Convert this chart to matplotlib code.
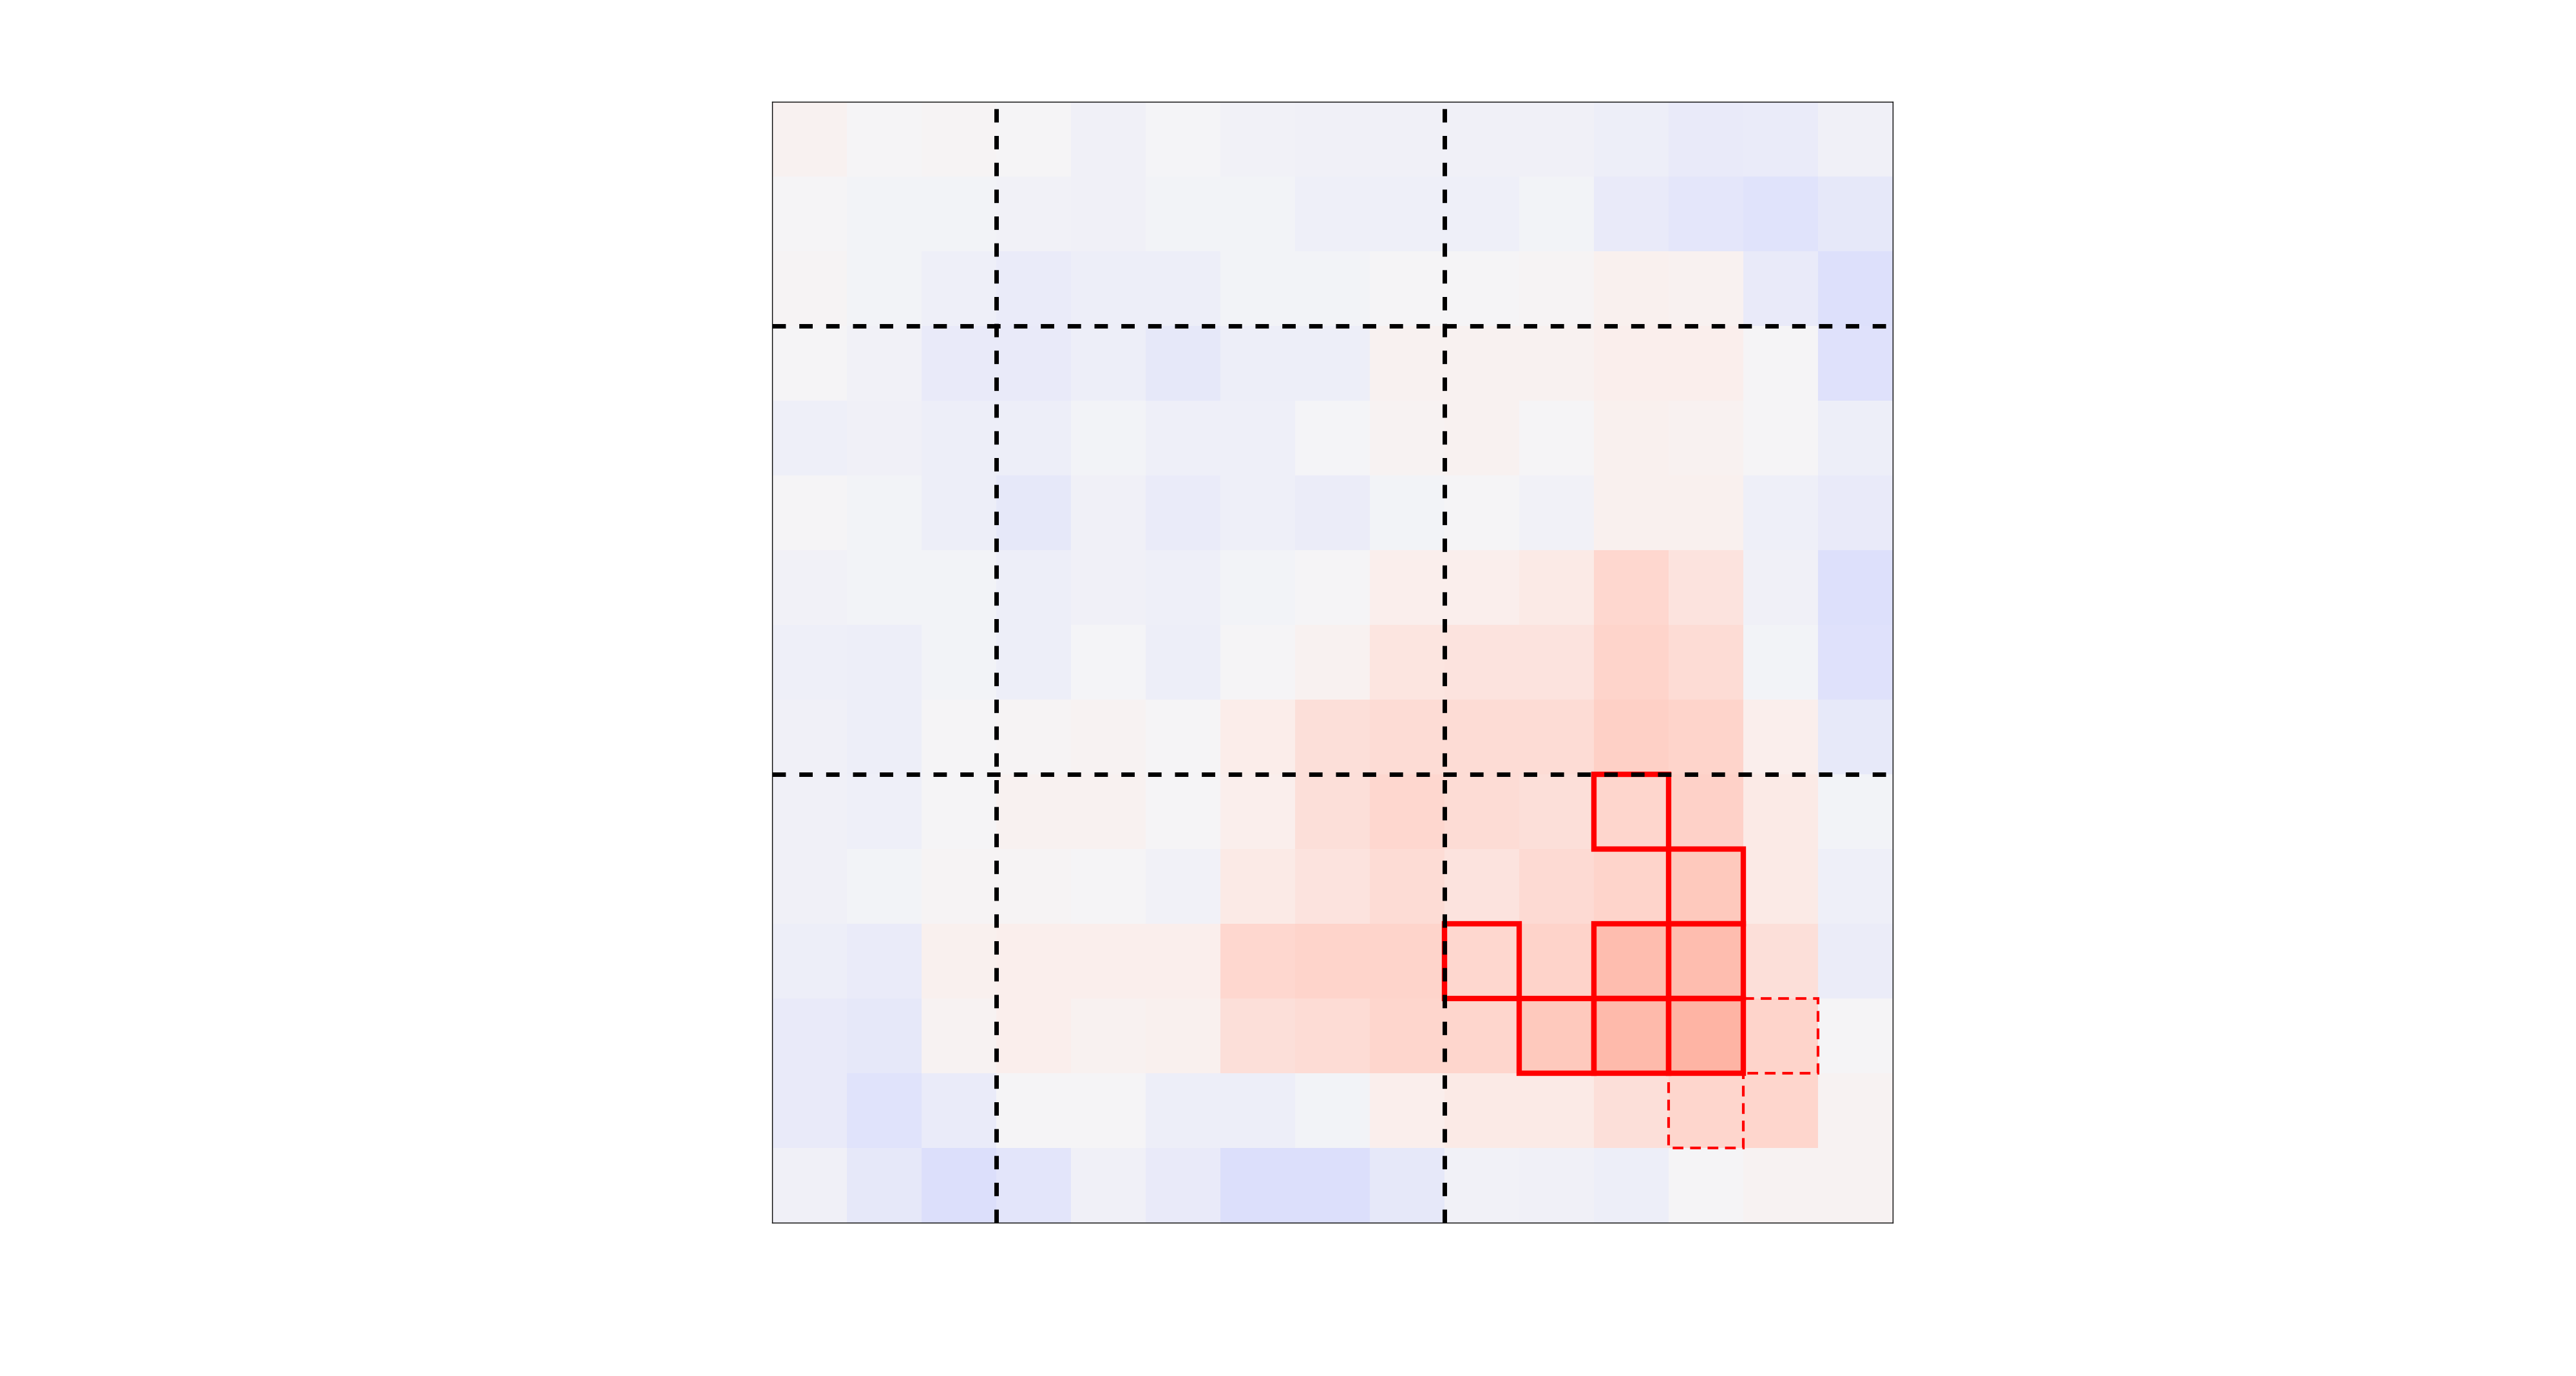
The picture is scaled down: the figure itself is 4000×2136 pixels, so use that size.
import numpy as np
import matplotlib
matplotlib.use("Agg")
import matplotlib.pyplot as plt
from matplotlib.colors import LinearSegmentedColormap
from matplotlib.patches import Rectangle

# cell values, read row by row from top
r0 = [0.03, 0.0, 0.01, 0.0, -0.03, -0.005, -0.02, -0.03, -0.03, -0.03, -0.03, -0.045, -0.065, -0.06, -0.03]
r1 = [0.005, -0.01, -0.015, -0.02, -0.03, -0.01, -0.015, -0.035, -0.035, -0.035, -0.015, -0.065, -0.09, -0.11, -0.085]
r2 = [0.01, -0.015, -0.035, -0.06, -0.045, -0.045, -0.015, -0.015, 0.0, 0.005, 0.015, 0.035, 0.025, -0.065, -0.13]
r3 = [0.005, -0.02, -0.065, -0.065, -0.045, -0.08, -0.04, -0.04, 0.025, 0.025, 0.025, 0.04, 0.04, 0.0, -0.12]
r4 = [-0.035, -0.03, -0.04, -0.045, -0.01, -0.035, -0.035, -0.005, 0.02, 0.025, 0.0, 0.035, 0.03, 0.0, -0.04]
r5 = [0.0, -0.01, -0.04, -0.08, -0.03, -0.06, -0.035, -0.05, -0.01, 0.0, -0.02, 0.035, 0.035, -0.035, -0.065]
r6 = [-0.02, -0.015, -0.01, -0.045, -0.03, -0.035, -0.015, 0.0, 0.04, 0.04, 0.07, 0.15, 0.1, -0.03, -0.13]
r7 = [-0.035, -0.04, -0.015, -0.04, -0.005, -0.045, 0.0, 0.03, 0.09, 0.1, 0.1, 0.17, 0.13, -0.015, -0.12]
r8 = [-0.03, -0.04, 0.0, 0.015, 0.02, 0.0, 0.05, 0.11, 0.13, 0.13, 0.13, 0.19, 0.17, 0.045, -0.075]
r9 = [-0.03, -0.035, 0.0, 0.025, 0.025, 0.0, 0.045, 0.11, 0.15, 0.13, 0.11, 0.16, 0.18, 0.07, -0.015]
r10 = [-0.03, -0.01, 0.01, 0.015, 0.0, -0.02, 0.065, 0.1, 0.13, 0.1, 0.14, 0.17, 0.23, 0.07, -0.035]
r11 = [-0.04, -0.055, 0.035, 0.04, 0.04, 0.04, 0.15, 0.17, 0.17, 0.15, 0.175, 0.29, 0.29, 0.115, -0.05]
r12 = [-0.065, -0.08, 0.02, 0.045, 0.03, 0.035, 0.11, 0.13, 0.16, 0.16, 0.23, 0.31, 0.34, 0.165, 0.0]
r13 = [-0.065, -0.11, -0.055, 0.0, 0.0, -0.04, -0.04, -0.01, 0.045, 0.07, 0.07, 0.11, 0.16, 0.16, 0.02]
r14 = [-0.03, -0.08, -0.135, -0.1, -0.03, -0.065, -0.14, -0.14, -0.085, -0.02, -0.03, -0.045, 0.0, 0.02, 0.02]

# group boundaries (dashed black lines)
splits = [3, 9]

# highlighted cells (row, col)
solid_cells = [(9, 11), (10, 12), (11, 9), (11, 11), (11, 12), (12, 10), (12, 11), (12, 12)]
dashed_cells = [(12, 13), (13, 12)]

grid = np.array([r0, r1, r2, r3, r4, r5, r6, r7, r8, r9, r10, r11, r12, r13, r14])
n = grid.shape[0]

# soft diverging map, light grey in the middle (positions are (v + 1) / 2)
cmap = LinearSegmentedColormap.from_list(
    "soft_bwr",
    [(0.0, "#3c50eb"), (0.43, "#dcdffc"), (0.5, "#f5f5f7"), (0.525, "#fbeeeb"),
     (0.575, "#fed8d0"), (0.67, "#ffb5a5"), (1.0, "#dc1e14")])

fig = plt.figure(figsize=(20, 10.68), dpi=200)
ax = fig.add_axes([0.29975, 0.1114, 0.435, 0.8146])
ax.imshow(grid, cmap=cmap, vmin=-1, vmax=1, interpolation="nearest", aspect="equal")

for s in splits:
    ax.axvline(s - 0.5, color="black", lw=2.5, linestyle=(0, (3, 3)))
    ax.axhline(s - 0.5, color="black", lw=2.5, linestyle=(0, (3, 3)))

for r, c in solid_cells:
    ax.add_patch(Rectangle((c - 0.5, r - 0.5), 1, 1, fill=False, edgecolor="red", lw=3))
for r, c in dashed_cells:
    ax.add_patch(Rectangle((c - 0.5, r - 0.5), 1, 1, fill=False, edgecolor="red", lw=1.5,
                           linestyle=(0, (4, 2.5))))

ax.set_xlim(-0.5, n - 0.5)
ax.set_ylim(n - 0.5, -0.5)
ax.set_xticks([])
ax.set_yticks([])
for sp in ax.spines.values():
    sp.set_linewidth(0.5)
    sp.set_color("black")

fig.savefig("out.png", dpi=200)
